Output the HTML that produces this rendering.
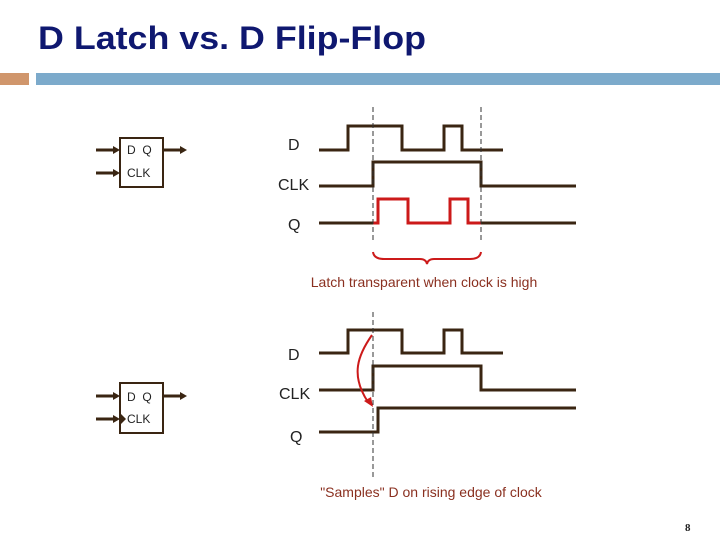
<!DOCTYPE html>
<html><head><meta charset="utf-8"><style>
body{margin:0;background:#fff;}
svg{display:block;}
</style></head><body>
<svg width="720" height="540" viewBox="0 0 720 540" xmlns="http://www.w3.org/2000/svg" font-family="Liberation Sans, Arial, sans-serif">
<text x="38" y="49" font-size="32" font-weight="bold" fill="#0f1870" textLength="388" lengthAdjust="spacingAndGlyphs">D Latch vs. D Flip-Flop</text>
<rect x="0" y="73" width="29" height="12" fill="#d0966c"/>
<rect x="36" y="73" width="684" height="12" fill="#7caacb"/>
<g stroke="#3a2512" stroke-width="3" fill="none">
<rect x="120" y="138" width="43" height="49" stroke-width="2"/>
<line x1="96" y1="150" x2="114" y2="150"/><line x1="96" y1="173" x2="114" y2="173"/>
<line x1="163" y1="150" x2="181" y2="150"/>
<polyline points="319,150 348,150 348,126 402,126 402,150 444,150 444,126 462,126 462,150 503,150"/>
<polyline points="319,186 373,186 373,162 481,162 481,186 576,186"/>
<polyline points="319,223 378,223"/>
<polyline points="481,223 576,223"/>
<rect x="120" y="383" width="43" height="50" stroke-width="2"/>
<line x1="96" y1="396" x2="114" y2="396"/><line x1="96" y1="419" x2="114" y2="419"/>
<line x1="163" y1="396" x2="181" y2="396"/>
<polyline points="319,353 348,353 348,330 402,330 402,353 444,353 444,330 462,330 462,353 503,353"/>
<polyline points="319,390 373,390 373,366 481,366 481,390 576,390"/>
<polyline points="319,432 378,432 378,408 576,408"/>
</g>
<g fill="#3a2512">
<polygon points="113,146 120,150 113,154"/><polygon points="113,169 120,173 113,177"/>
<polygon points="180,146 187,150 180,154"/>
<polygon points="113,392 120,396 113,400"/><polygon points="113,415 120,419 113,423"/>
<polygon points="180,392 187,396 180,400"/>
<polygon points="120,413 126,419 120,425"/>
</g>
<polyline points="373,223 378,223 378,199 408,199 408,223 450,223 450,199 468,199 468,223 481,223" stroke="#cc1a1a" stroke-width="3" fill="none"/>
<g stroke="#333" stroke-width="1" stroke-dasharray="5,3">
<line x1="373" y1="107" x2="373" y2="240"/><line x1="481" y1="107" x2="481" y2="240"/>
<line x1="373" y1="312" x2="373" y2="478"/>
</g>
<path d="M373,252 Q374,259 384,259 L420,259 Q426,259 427,264 Q428,259 434,259 L470,259 Q480,259 481,252" stroke="#cc1a1a" stroke-width="2" fill="none"/>
<path d="M372,335 C358,355 350,375 368,402" stroke="#cc1a1a" stroke-width="2" fill="none"/>
<polygon points="364,401 373,407 371,397" fill="#cc1a1a"/>
<g font-size="12" fill="#222">
<text x="127" y="154">D&#160;&#160;Q</text><text x="127" y="177">CLK</text>
<text x="127" y="401">D&#160;&#160;Q</text><text x="127" y="423">CLK</text>
</g>
<g font-size="16" fill="#222">
<text x="288" y="150">D</text>
<text x="278" y="190">CLK</text>
<text x="288" y="230">Q</text>
<text x="288" y="360">D</text>
<text x="279" y="399">CLK</text>
<text x="290" y="442">Q</text>
</g>
<g font-size="14" fill="#8a3020" text-anchor="middle">
<text x="424" y="287">Latch transparent when clock is high</text>
<text x="431" y="497">"Samples" D on rising edge of clock</text>
</g>
<text x="685" y="531" font-size="11" font-weight="bold" font-family="Liberation Serif, serif" fill="#222">8</text>
</svg>
</body></html>
